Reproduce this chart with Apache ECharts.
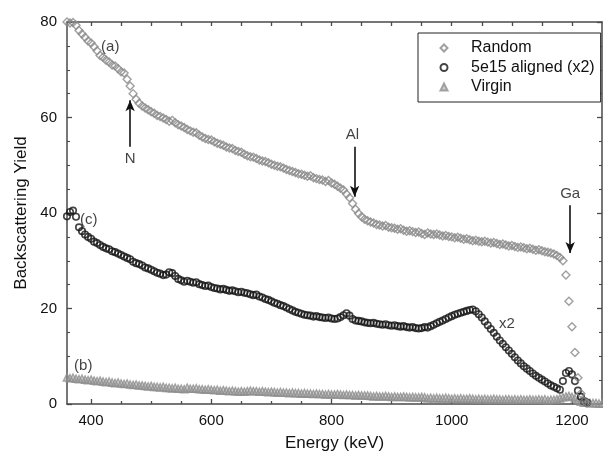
<!DOCTYPE html>
<html>
<head>
<meta charset="utf-8">
<script src="https://cdn.jsdelivr.net/npm/echarts@6/dist/echarts.min.js"></script>
<style>
  html, body { margin: 0; padding: 0; background: #fff; }
  #chart { width: 603px; height: 457px; }
</style>
</head>
<body>
<div id="chart"></div>
<script>
// RBS spectra: channel energies (keV)
const energy = [
  360,365,370,375,380,385,390,395,400,405,410,415,420,425,430,435,440,445,450,455,
  460,465,470,475,480,485,490,495,500,505,510,515,520,525,530,535,540,545,550,555,
  560,565,570,575,580,585,590,595,600,605,610,615,620,625,630,635,640,645,650,655,
  660,665,670,675,680,685,690,695,700,705,710,715,720,725,730,735,740,745,750,755,
  760,765,770,775,780,785,790,795,800,805,810,815,820,825,830,835,840,845,850,855,
  860,865,870,875,880,885,890,895,900,905,910,915,920,925,930,935,940,945,950,955,
  960,965,970,975,980,985,990,995,1000,1005,1010,1015,1020,1025,1030,1035,1040,1045,1050,1055,
  1060,1065,1070,1075,1080,1085,1090,1095,1100,1105,1110,1115,1120,1125,1130,1135,1140,1145,1150,1155,
  1160,1165,1170,1175,1180,1185,1190,1195,1200,1205,1210,1215,1220,1225,1230,1235,1240,1245,1250
];

// (a) random spectrum
const randomYield = [
  80.0,79.8,79.9,79.3,78.2,77.5,76.8,76.0,75.6,74.8,74.0,73.0,72.6,72.0,71.6,71.0,70.8,70.2,69.6,69.3,
  68.0,66.6,65.0,63.8,63.0,62.4,62.0,61.6,61.2,60.9,60.4,60.2,59.9,59.6,59.2,59.4,58.9,58.5,58.2,57.9,
  57.5,57.2,56.9,56.8,56.3,55.9,55.6,55.4,55.3,54.9,54.6,54.4,54.2,53.8,53.6,53.5,53.1,52.9,52.7,52.3,
  52.0,51.8,51.7,51.4,51.1,50.9,50.8,50.5,50.2,50.0,49.8,49.7,49.4,49.1,48.9,48.7,48.5,48.2,48.1,47.9,
  47.7,47.8,47.4,47.2,47.0,46.9,46.6,46.8,46.3,46.0,45.6,45.2,44.8,44.0,43.2,42.0,40.8,39.9,39.2,38.7,
  38.4,38.1,37.9,37.6,37.5,37.3,37.4,37.0,36.9,36.8,36.6,36.7,36.4,36.2,36.3,36.1,35.9,36.0,35.7,35.5,
  35.8,35.6,35.5,35.6,35.4,35.2,35.3,35.1,35.0,34.8,34.9,34.7,34.5,34.6,34.4,34.2,34.3,34.1,34.0,34.1,
  33.9,33.7,33.8,33.6,33.4,33.5,33.3,33.1,33.2,33.0,32.8,32.9,32.7,32.5,32.6,32.4,32.2,32.3,32.1,31.9,
  31.8,31.6,31.4,31.1,30.7,30.0,27.0,21.5,16.2,10.8,5.5,2.2,0.6,0.2
];

// (c) 5e15 aligned spectrum, already multiplied by 2
const alignedYield = [
  39.3,40.2,40.5,39.2,37.0,36.2,35.5,35.0,34.6,34.0,33.7,33.3,32.9,32.6,32.4,32.0,31.8,31.5,31.2,30.9,
  30.6,30.3,29.8,29.5,29.3,29.0,28.6,28.4,28.1,27.8,27.5,27.3,27.0,27.1,27.6,27.4,26.8,26.2,25.9,25.6,
  25.8,25.6,25.4,25.5,25.1,24.9,24.7,24.8,24.5,24.3,24.2,24.0,24.1,23.9,23.7,23.8,23.6,23.4,23.5,23.3,
  23.2,23.0,22.8,22.9,22.5,22.3,22.0,21.8,21.5,21.2,21.0,20.7,20.5,20.2,19.9,19.6,19.3,19.1,18.9,18.7,
  18.6,18.5,18.3,18.4,18.2,18.1,18.0,18.1,17.9,17.8,17.9,18.2,18.6,19.0,18.5,17.8,17.5,17.4,17.3,17.1,
  17.0,16.9,17.0,16.8,16.7,16.6,16.7,16.5,16.4,16.5,16.3,16.2,16.3,16.1,16.0,16.1,15.9,15.8,15.9,16.1,
  16.0,16.3,16.6,16.9,17.2,17.5,17.8,18.1,18.4,18.7,18.9,19.1,19.3,19.5,19.7,19.8,19.4,18.8,18.1,17.3,
  16.5,15.7,14.9,14.1,13.3,12.6,11.9,11.2,10.5,9.8,9.1,8.5,7.9,7.4,6.9,6.4,5.9,5.5,5.1,4.7,
  4.3,3.9,3.6,3.3,3.0,4.8,6.5,6.9,6.2,4.8,2.8,1.5,0.6,0.3
];

// (b) virgin aligned spectrum
const virginYield = [
  5.6,5.4,5.5,5.3,5.2,5.3,5.1,5.0,5.1,4.9,4.8,4.9,4.7,4.6,4.7,4.5,4.4,4.5,4.3,4.2,
  4.3,4.1,4.0,4.1,3.9,3.9,3.8,3.7,3.8,3.6,3.6,3.5,3.6,3.4,3.4,3.3,3.4,3.2,3.2,3.1,
  3.4,3.2,3.2,3.3,3.1,3.1,3.0,3.1,3.0,2.9,3.0,2.8,2.9,2.8,2.7,2.8,2.7,2.6,2.7,2.6,
  2.7,2.8,2.7,2.7,2.6,2.7,2.6,2.5,2.6,2.5,2.4,2.5,2.4,2.4,2.3,2.4,2.3,2.3,2.2,2.3,
  2.2,2.2,2.1,2.2,2.1,2.1,2.0,2.1,2.0,2.0,2.1,2.0,1.9,2.0,1.9,1.9,1.8,1.9,1.8,1.8,
  1.8,1.7,1.6,1.7,1.6,1.6,1.7,1.6,1.5,1.6,1.5,1.5,1.6,1.5,1.4,1.5,1.4,1.4,1.5,1.4,
  1.2,1.3,1.2,1.3,1.2,1.2,1.3,1.2,1.1,1.2,1.1,1.2,1.1,1.1,1.2,1.1,1.0,1.1,1.0,1.1,
  1.0,1.0,1.1,1.0,1.0,0.9,1.0,1.0,0.9,1.0,0.9,1.0,0.9,0.9,1.0,0.9,0.9,1.0,0.9,1.0,
  0.8,0.9,0.9,1.0,1.2,1.4,1.6,1.7,1.5,1.2,0.8,0.5,0.3,0.3,0.2,0.2,0.2,0.1,0.1
];

const seriesNames = ['Random', '5e15 aligned (x2)', 'Virgin'];

// Axis ranges and tick positions
const xRange = [360, 1250];
const yRange = [0, 80];
const yStep = 20;
const xMajorTicks = [400, 600, 800, 1000, 1200];
const xMinorTicks = [450, 500, 550, 650, 700, 750, 850, 900, 950, 1050, 1100, 1150];
const xAllTicks = [400, 450, 500, 550, 600, 650, 700, 750, 800, 850, 900, 950, 1000, 1050, 1100, 1150, 1200];

// Text notes on the plot: [energy, yield, text]
const notes = [
  [432, 74.8, '(a)'],
  [396, 38.6, '(c)'],
  [387, 7.9, '(b)'],
  [1092, 16.8, 'x2'],
  [465, 51.4, 'N'],
  [835, 56.3, 'Al'],
  [1197, 44.0, 'Ga']
];

// Edge arrows: [energy, tail yield, head yield]
const edgeArrows = [
  [465, 53.9, 63.6],
  [838.5, 53.9, 43.4],
  [1197, 41.6, 31.6]
];

function pairs(values) {
  const out = [];
  for (let i = 0; i < values.length; i++) out.push([energy[i], values[i]]);
  return out;
}

const FONT = '"Liberation Sans", Arial, Helvetica, sans-serif';
const AXIS_COLOR = '#4a4a4a';
const lineStyle = { color: AXIS_COLOR, width: 1.5 };

const chart = echarts.init(document.getElementById('chart'), null, { renderer: 'canvas' });

function xAxisDef(position, ticks, len, opts) {
  return Object.assign({
    type: 'value', position: position, min: xRange[0], max: xRange[1],
    axisLine: { show: true, onZero: false, lineStyle: lineStyle },
    axisTick: { show: true, inside: true, length: len, customValues: ticks,
                lineStyle: { color: AXIS_COLOR, width: 1.3 } },
    axisLabel: { show: false },
    splitLine: { show: false }
  }, opts || {});
}

function yAxisDef(position, opts) {
  return Object.assign({
    type: 'value', position: position, min: yRange[0], max: yRange[1], interval: yStep,
    axisLine: { show: true, onZero: false, lineStyle: lineStyle },
    axisTick: { show: true, inside: true, length: 5, lineStyle: { color: AXIS_COLOR, width: 1.3 } },
    minorTick: { show: true, splitNumber: 4, length: 3, lineStyle: { color: AXIS_COLOR, width: 1.1 } },
    axisLabel: { show: false },
    splitLine: { show: false }
  }, opts || {});
}

chart.setOption({
  animation: false,
  backgroundColor: '#fff',
  textStyle: { fontFamily: FONT },
  grid: { left: 67, right: 1, top: 22, bottom: 49, containLabel: false },
  legend: {
    data: seriesNames,
    orient: 'vertical',
    left: 418,
    top: 33,
    itemWidth: 7,
    itemHeight: 7,
    itemGap: 0.5,
    padding: [5.5, 6, 5.5, 21.5],
    borderColor: '#222',
    borderWidth: 1,
    backgroundColor: '#fff',
    textStyle: { fontFamily: FONT, fontSize: 16, color: '#111', lineHeight: 19, padding: [0, 0, 0, 18.5] }
  },
  xAxis: [
    xAxisDef('bottom', xMajorTicks, 5, {
      name: 'Energy (keV)', nameLocation: 'middle', nameGap: 31,
      nameTextStyle: { fontFamily: FONT, fontSize: 17, color: '#111' },
      axisLabel: { show: true, customValues: xMajorTicks, formatter: v => String(v),
                   fontFamily: FONT, fontSize: 15, color: '#111', margin: 9.5 }
    }),
    xAxisDef('bottom', xMinorTicks, 3, { axisLine: { show: false } }),
    xAxisDef('top', xAllTicks, 4)
  ],
  yAxis: [
    yAxisDef('left', {
      name: 'Backscattering Yield', nameLocation: 'middle', nameGap: 37,
      nameTextStyle: { fontFamily: FONT, fontSize: 17, color: '#111' },
      axisLabel: { show: true, fontFamily: FONT, fontSize: 15, color: '#111', margin: 10 }
    }),
    yAxisDef('right')
  ],
  series: [
    {
      name: 'Virgin', type: 'scatter', z: 2, clip: false,
      data: pairs(virginYield),
      symbol: 'triangle', symbolSize: 7.5,
      itemStyle: { color: 'rgba(150,150,150,0.6)', borderColor: '#8f8f8f', borderWidth: 1.3 }
    },
    {
      name: '5e15 aligned (x2)', type: 'scatter', z: 3, clip: false,
      data: pairs(alignedYield),
      symbol: 'circle', symbolSize: 6.5,
      itemStyle: { color: 'rgba(255,255,255,0)', borderColor: '#151515', borderWidth: 1.6 }
    },
    {
      name: 'Random', type: 'scatter', z: 4, clip: false,
      data: pairs(randomYield),
      symbol: 'diamond', symbolSize: 8,
      itemStyle: { color: 'rgba(255,255,255,0)', borderColor: '#888', borderWidth: 1.4 },
      markLine: {
        silent: true,
        symbol: ['none', 'arrow'],
        symbolSize: [7, 11],
        label: { show: false },
        lineStyle: { color: '#111', width: 1.6, type: 'solid' },
        data: edgeArrows.map(a => [{ coord: [a[0], a[1]] }, { coord: [a[0], a[2]] }])
      }
    },
    {
      name: 'notes', type: 'scatter', z: 6, clip: false, silent: true,
      data: notes.map(n => ({ value: [n[0], n[1]], name: n[2] })),
      symbolSize: 1,
      itemStyle: { color: 'rgba(0,0,0,0)' },
      label: {
        show: true, position: 'inside', formatter: p => p.name,
        fontFamily: FONT, fontSize: 15, color: '#111'
      }
    }
  ]
});
</script>
</body>
</html>
